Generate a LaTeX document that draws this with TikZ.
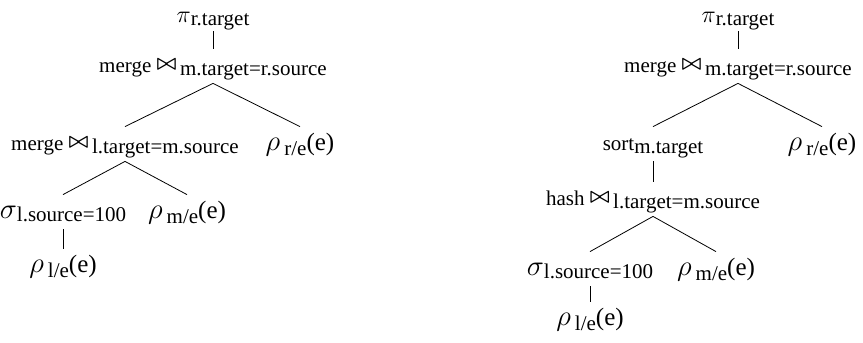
\documentclass[tikz,border=0pt]{standalone}
\usepackage{fontspec}
\setmainfont{Liberation Serif}
\usepackage{graphicx}

\newcommand{\lowsub}[1]{\raisebox{-0.4ex}{#1}}
\newcommand{\gk}[1]{{\fontsize{14pt}{16pt}\selectfont$#1$}}
\newcommand{\leafsub}[1]{\raisebox{-0.45ex}{\fontsize{10.5pt}{12pt}\selectfont #1}}
\newcommand{\joinop}{\raisebox{0.25ex}{\scalebox{0.95}{\boldmath$\bowtie$}}}

\begin{document}
\begin{tikzpicture}[x=0.5pt, y=-0.5pt,
    op/.style={anchor=base, inner sep=0pt, text height=11.5pt, text depth=5.5pt,
      font=\fontsize{10.5pt}{12pt}\selectfont},
    root/.style={op, text height=8pt, text depth=4.5pt},
    leaf/.style={op, font=\fontsize{12.5pt}{14pt}\selectfont}]

    \useasboundingbox (0,0) rectangle (863,343);

    % ==================================================
    % left plan: merge / merge
    % ==================================================

    % projection
    \node[root] (pl) at (213,22) {{\fontsize{13pt}{15pt}\selectfont$\pi$}\lowsub{r.target}};

    % joins
    \node[op] (ml) at (213,72) {merge \joinop\,\lowsub{m.target=r.source}};
    \node[op] (nl) at (125,150) {merge \joinop\,\lowsub{l.target=m.source}};
    \node[leaf] (rl) at (300,150) {\gk{\rho}\,\leafsub{r/e}(e)};

    % selection and scans
    \node[op] (sl) at (63,218) {\gk{\sigma}\lowsub{l.source=100}};
    \node[leaf] (el) at (187,218) {\gk{\rho}\,\leafsub{m/e}(e)};
    \node[leaf] (fl) at (63,272) {\gk{\rho}\,\leafsub{l/e}(e)};

    % edges
    \draw (pl.south) -- (ml.north);
    \draw (ml.south) -- (nl.north);
    \draw (ml.south) -- (rl.north);
    \draw (nl.south) -- (sl.north);
    \draw (nl.south) -- (el.north);
    \draw (sl.south) -- (fl.north);

    % ==================================================
    % right plan: merge / sort / hash
    % ==================================================

    % projection
    \node[root] (pr) at (738,22) {{\fontsize{13pt}{15pt}\selectfont$\pi$}\lowsub{r.target}};

    % joins
    \node[op] (mr) at (738,72) {merge \joinop\,\lowsub{m.target=r.source}};
    \node[op] (so) at (653,150) {sort\lowsub{m.target}};
    \node[leaf] (rr) at (822,150) {\gk{\rho}\,\leafsub{r/e}(e)};
    \node[op] (hr) at (653,205) {hash \joinop\,\lowsub{l.target=m.source}};

    % selection and scans
    \node[op] (sr) at (590,275) {\gk{\sigma}\lowsub{l.source=100}};
    \node[leaf] (er) at (716,275) {\gk{\rho}\,\leafsub{m/e}(e)};
    \node[leaf] (fr) at (590,325) {\gk{\rho}\,\leafsub{l/e}(e)};

    % edges
    \draw (pr.south) -- (mr.north);
    \draw (mr.south) -- (so.north);
    \draw (mr.south) -- (rr.north);
    \draw (so.south) -- (hr.north);
    \draw (hr.south) -- (sr.north);
    \draw (hr.south) -- (er.north);
    \draw (sr.south) -- (fr.north);

\end{tikzpicture}
\end{document}
